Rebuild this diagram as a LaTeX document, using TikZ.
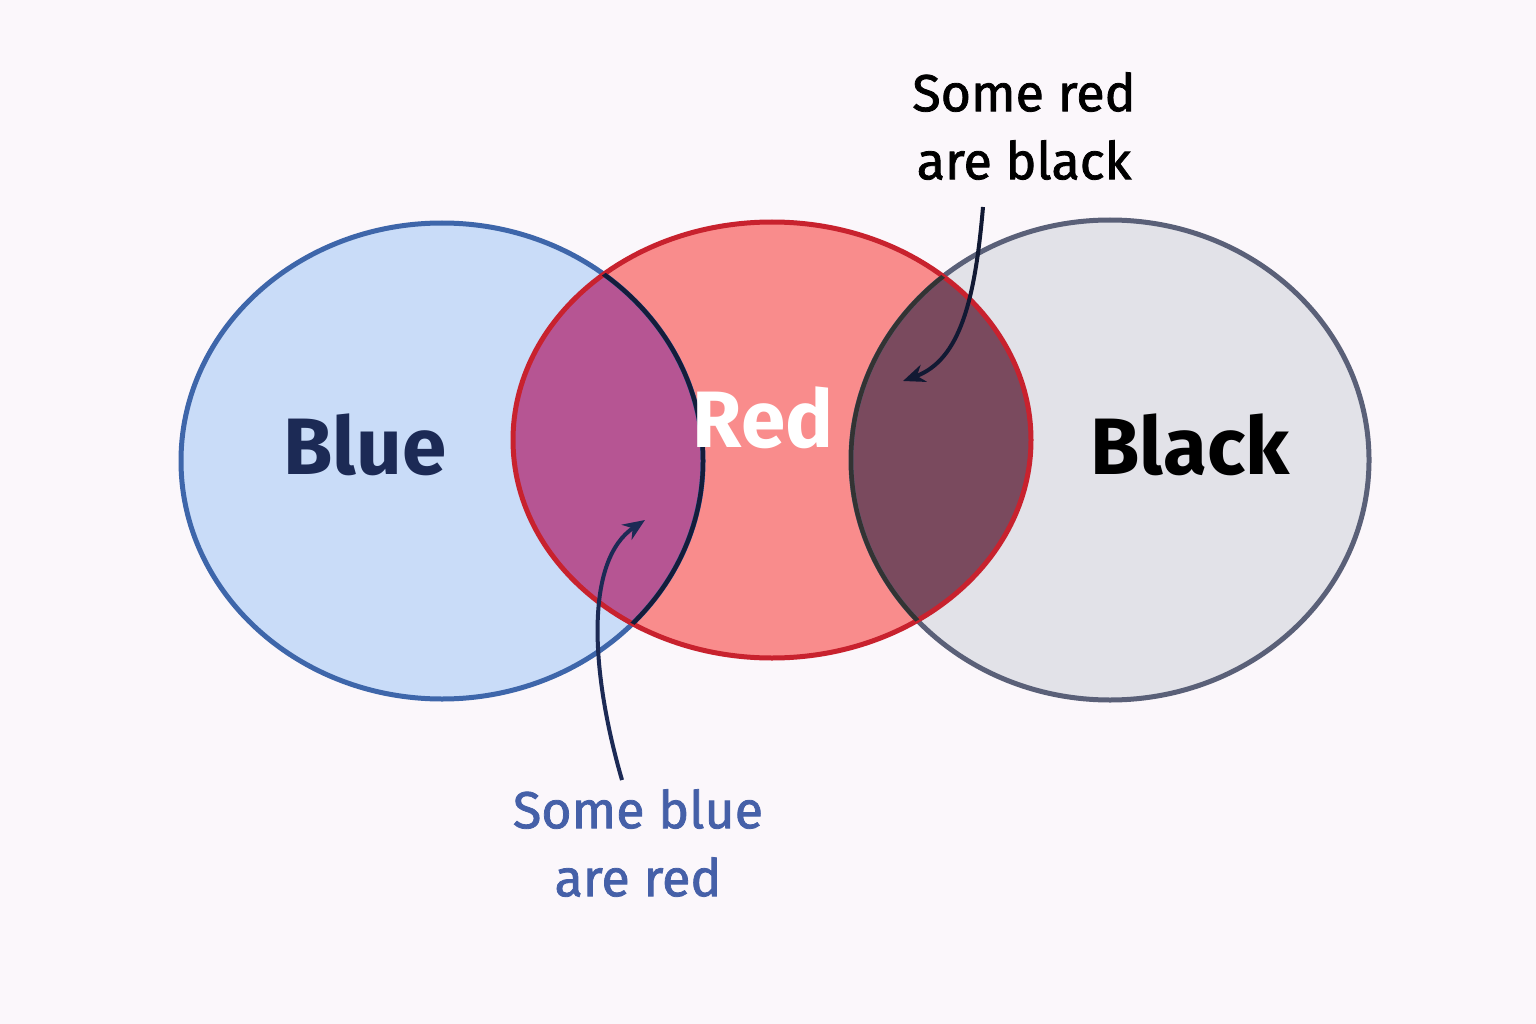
\documentclass[tikz,border=0pt]{standalone}
\usepackage{fontspec}
\setmainfont{Fira Sans}
\usetikzlibrary{arrows.meta}
\definecolor{bfill}{HTML}{C9DCF8}
\definecolor{bline}{HTML}{3E66AA}
\definecolor{rfill}{HTML}{F98C8C}
\definecolor{rline}{HTML}{C8222E}
\definecolor{kfill}{HTML}{E2E2E8}
\definecolor{kline}{HTML}{5A6078}
\definecolor{brfill}{HTML}{B65593}
\definecolor{rkfill}{HTML}{7A4A5E}
\definecolor{navy}{HTML}{1C2A55}
\definecolor{annblue}{HTML}{4560A8}
\tikzset{lbl/.style={font=\fontsize{80}{90}\selectfont\bfseries},
 ann/.style={font=\fontsize{52}{68}\selectfont\addfontfeatures{FakeBold=1.5}, align=center},
 arr/.style={line width=4pt,-{Stealth[length=22pt,width=18pt]}}}
\begin{document}
\begin{tikzpicture}[x=1pt,y=-1pt]
\fill[white!97!violet] (0,0) rectangle (1536,1024);
\useasboundingbox (0,0) rectangle (1536,1024);
\def\B{(442,461) ellipse [x radius=261,y radius=238]}
\def\R{(772,440) ellipse [x radius=259,y radius=218]}
\def\K{(1110,460) ellipse [x radius=259,y radius=240]}
\fill[bfill] \B;
\fill[kfill] \K;
\fill[rfill] \R;
\begin{scope}\clip \B; \fill[brfill] \R; \end{scope}
\begin{scope}\clip \K; \fill[rkfill] \R; \end{scope}
\draw[bline,line width=5pt] \B;
\draw[kline,line width=5pt] \K;
\draw[rline,line width=5pt] \R;
\begin{scope}\clip \R; \draw[navy!70!black,line width=4.5pt] \B; \draw[black!80,line width=4.5pt] \K; \end{scope}
\node[lbl,navy] (blue) at (365,445) {Blue};
\node[lbl,white] (red) at (763,418) {Red};
\node[lbl,black] (black) at (1190,445) {Black};
\node[ann,black] (t1) at (1024,126) {Some red\\are black};
\node[ann,annblue] (t2) at (638,843) {Some blue\\are red};
\coordinate (a1) at (983,207);
\coordinate (e1) at (903,381);
\coordinate (a2) at (622,780);
\coordinate (e2) at (645,520);
\draw[arr,navy!60!black] (a1) .. controls (975,300) and (960,360) .. (e1);
\draw[arr,navy] (a2) .. controls (590,670) and (585,560) .. (e2);
\end{tikzpicture}
\end{document}
